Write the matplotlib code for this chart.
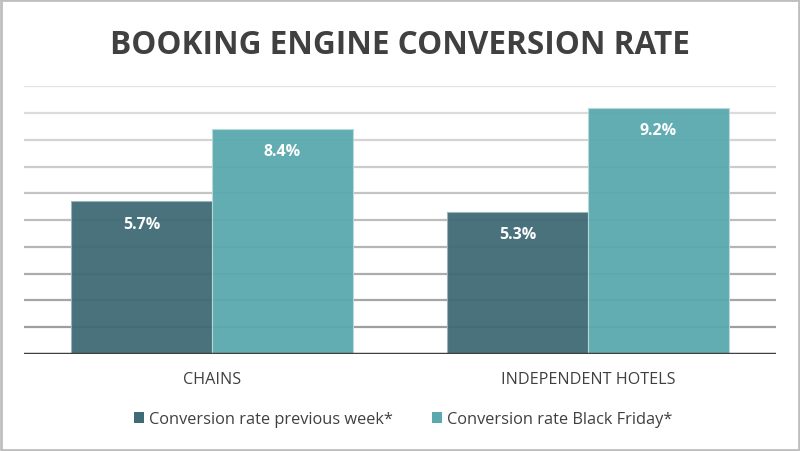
import numpy as np
import matplotlib.pyplot as plt
from matplotlib.patches import Rectangle, Patch

plt.rcParams['font.family'] = ['Open Sans', 'DejaVu Sans']

categories = ['CHAINS', 'INDEPENDENT HOTELS']
series_names = ['Conversion rate previous week*', 'Conversion rate Black Friday*']
prev_week = [5.7, 5.3]
black_friday = [8.4, 9.2]
colors = ['#3F6A76', '#5AA9AE']

fig = plt.figure(figsize=(8, 4.52), dpi=100)
ax = fig.add_axes([0.03, 0.2146, 0.94, 0.5923])

x = np.arange(len(categories))
w = 0.375

# gridlines get darker towards the bottom, like the original
for i, yv in enumerate(range(1, 11)):
    shade = 0.62 + 0.27 * (i / 9)
    ax.axhline(yv, color=(shade, shade, shade), lw=1.6, zorder=1)

b1 = ax.bar(x - w / 2, prev_week, w, color=colors[0], alpha=0.95,
            edgecolor='#9FB4BA', linewidth=0.8, zorder=2)
b2 = ax.bar(x + w / 2, black_friday, w, color=colors[1], alpha=0.95,
            edgecolor='#B9DADC', linewidth=0.8, zorder=2)

for bars, vals in [(b1, prev_week), (b2, black_friday)]:
    for rect, v in zip(bars, vals):
        ax.annotate('%.1f%%' % v, (rect.get_x() + rect.get_width() / 2, v),
                    xytext=(0, -16), textcoords='offset points',
                    ha='center', va='center', color='white',
                    fontsize=11.5, fontweight='bold', zorder=3)

ax.axhline(0, color='#404040', lw=2.5, zorder=3)
ax.set_xlim(-0.5, 1.5)
ax.set_ylim(0, 10)
ax.set_yticks([])
ax.set_xticks(x)
ax.set_xticklabels(categories, fontsize=11.6, color='#404040')
ax.tick_params(axis='x', length=0, pad=12)
for s in ax.spines.values():
    s.set_visible(False)

fig.text(0.5, 0.9, 'BOOKING ENGINE CONVERSION RATE', ha='center', va='center',
         fontsize=22.7, fontweight='bold', color='#404040')

handles = [Patch(facecolor=colors[0]), Patch(facecolor=colors[1])]
fig.legend(handles, series_names, loc='center', bbox_to_anchor=(0.504, 0.0708),
           ncol=2, frameon=False, fontsize=11.8, handlelength=0.62, handleheight=0.62,
           handletextpad=0.3, columnspacing=2.35, labelcolor='#404040')

fig.add_artist(Rectangle((0.0015, 0.0025), 0.997, 0.995, transform=fig.transFigure,
                         fill=False, edgecolor='#BFBFBF', lw=2))

fig.savefig('out.png', dpi=100)
